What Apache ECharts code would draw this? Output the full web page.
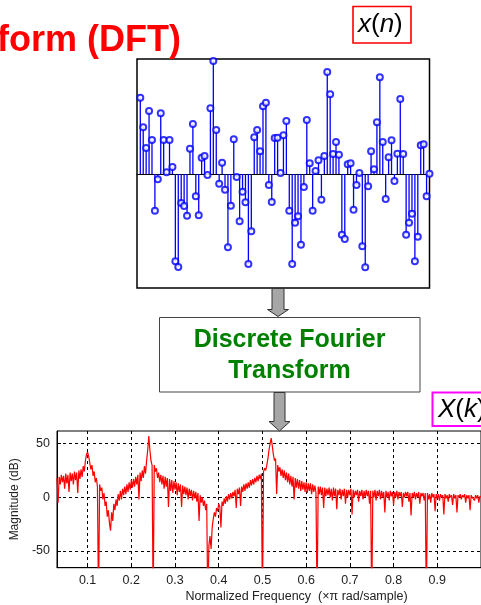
<!DOCTYPE html>
<html>
<head>
<meta charset="utf-8">
<title>DFT</title>
<script src="https://cdn.jsdelivr.net/npm/echarts/dist/echarts.min.js"></script>
<style>
    html, body { margin: 0; padding: 0; background: #fff; }
    #chart { width: 481px; height: 605px; }
</style>
</head>
<body>
<div id="chart"></div>
<script>
// x(n): 100 samples
const xn = [
    2.29, 1.40, 0.78, 1.89, 1.02, -1.10, -0.16, 1.82, 1.02, 0.05,
    1.02, 0.21, -2.62, -2.79, -0.87, -0.96, -1.25, 0.76, 1.50, -0.67,
    -1.24, 0.49, 0.54, -0.03, 1.97, 3.39, 1.32, -0.29, 0.34, -0.47,
    -2.20, -0.95, 1.04, -0.09, -1.42, -0.53, -0.85, -2.70, -1.72, 1.10,
    1.32, 0.68, 2.03, 2.14, -0.33, -0.84, 1.08, 1.09, 0.03, 1.16,
    1.59, -1.10, -2.70, -1.46, -1.27, -2.12, -0.39, 1.62, 0.32, -1.10,
    0.09, 0.41, -0.77, 0.54, 3.06, 2.39, 0.60, 0.96, 0.58, -1.82,
    -1.95, 0.29, 0.32, -1.07, -0.33, 0.03, -2.17, -2.80, -0.37, 0.68,
    0.14, 1.55, 2.90, 0.96, -0.75, 0.50, 1.01, -0.21, 0.61, 2.25,
    0.60, -1.82, -1.46, -1.19, -2.62, -1.88, 0.86, 0.89, -0.67, 0.01
];

// |X(k)| in dB, one value every 0.0025 from 0.03 to 1.0
const freqStart = 0.03;
const freqStep = 0.0025;
const magDb = [
    18, -5, 19, 12, 21, 14, 20, 8, 22, 13,
    21, 5, 23, 15, 22, 12, 24, 16, 23, 4,
    25, 17, 26, 19, 29, 24, 34, 40, 42, 38,
    32, 26, 30, 20, 24, 14, 18, 10, -100, 12,
    6, 9, -2, 4, -8, -4, -18, -12, -24, -31,
    -14, -22, -6, -12, -2, -8, 3, -3, 6, -2,
    8, 2, 10, 3, 12, 5, 14, 7, 16, 9,
    17, 10, 19, 12, 21, -2, 23, 15, 25, 18,
    29, 22, 34, 44, 57, 44, 34, 30, -100, 30,
    24, 27, 18, 23, 14, 21, 12, 20, 8, 19,
    10, 18, -9, 17, 6, 16, 4, 15, 7, 14,
    2, 13, 5, 12, -9, 11, 3, 10, 2, 9,
    -2, 8, 1, 7, -3, 6, -1, 5, -4, 4,
    -22, 2, -5, 0, -8, -3, -12, -6, -100, -45,
    -36, -48, -28, -20, -14, -18, -10, -13, -6, -9,
    -28, -4, -8, -1, -6, 1, -4, 3, -2, 4,
    -1, 5, 1, 7, -10, 8, 3, 9, -8, 10,
    5, 12, 6, 13, 8, 14, 9, 16, 11, 17,
    12, 18, 14, 20, 15, 21, 17, 22, -100, 24,
    27, 25, 30, 36, 44, 50, 55, 48, 40, 34,
    36, 3, 30, 24, 28, 20, 26, 18, 25, 16,
    23, 14, 22, 12, 20, 10, 19, -2, 18, 9,
    17, 8, 16, 6, 15, 7, 14, 5, 14, 4,
    13, 6, 13, 3, 12, 5, 11, 4, -100, 10,
    3, 10, 2, 9, -10, 9, 1, 8, 2, 9,
    0, 8, -3, 9, 1, 8, -11, 7, 2, 8,
    -2, 7, 1, 8, -6, 7, 0, 7, 2, 8,
    -16, 7, 0, 6, 2, 7, -4, 6, 1, 7,
    -2, 6, 0, 7, 1, 6, -6, 6, -100, 6,
    0, 7, -3, 6, 1, 7, -2, 6, 0, 5,
    -14, 6, 0, 5, -3, 6, 1, 5, -7, 5,
    0, 6, -2, 5, 1, 5, -9, 4, 0, 5,
    1, 5, -4, 4, -17, 4, 0, 5, -2, 4,
    0, 5, -6, 4, 1, 4, -3, 4, -100, 4,
    -2, 3, -5, 4, 0, 3, -13, 3, -1, 3,
    -3, 3, 0, 2, -16, 3, -1, 2, -4, 3,
    0, 2, -7, 3, -1, 2, -14, 2, 0, 3,
    -2, 2, 0, 3, -5, 2, -1, 2, -12, 2,
    0, 1, -3, 2, -1, 2, -5, 1, 0
];

const freqTicks = [0.1, 0.2, 0.3, 0.4, 0.5, 0.6, 0.7, 0.8, 0.9];
const dbTicks = [-50, 0, 50];

const chart = echarts.init(document.getElementById("chart"));

const stemData = xn.map((v, i) => [i, v]);
const specData = magDb.map((v, i) => [+(freqStart + i * freqStep).toFixed(4), v]);

const font = '"Liberation Sans", Arial, sans-serif';

/**
 * shapes for the block diagram
 */
function arrow(cx, top, neck, tip, shaftW, headW) {
    return {
        type: "polygon",
        shape: {
            points: [
                [cx - shaftW / 2, top], [cx + shaftW / 2, top],
                [cx + shaftW / 2, neck], [cx + headW / 2, neck],
                [cx, tip], [cx - headW / 2, neck],
                [cx - shaftW / 2, neck]
            ]
        },
        style: { fill: "#a6a6a6", stroke: "#333", lineWidth: 1 },
        z: 10
    };
}

function label(x, y, a, b) {
    return {
        type: "text",
        x: x, y: y,
        style: {
            text: "{i|" + a + "}{n|(}{i|" + b + "}{n|)}",
            verticalAlign: "middle",
            rich: {
                i: { fontFamily: font, fontSize: 26, fontStyle: "italic", fill: "#000" },
                n: { fontFamily: font, fontSize: 26, fill: "#000" }
            }
        },
        z: 10
    };
}

chart.setOption({
    backgroundColor: "#fff",
    animation: false,

    grid: [
        { left: 137, top: 59, width: 292.5, height: 229, show: true, borderColor: "#000", borderWidth: 1.5 },   // x(n)
        { left: 57, top: 431, right: -7.4, bottom: 37.3, show: true, borderColor: "#000", borderWidth: 1 }      // X(k)
    ],

    xAxis: [
        {
            type: "value", gridIndex: 0, min: -1.13, max: 99,
            axisLine: { onZero: true, lineStyle: { color: "#000", width: 1 } },
            axisTick: { show: false }, axisLabel: { show: false }, splitLine: { show: false }
        },
        {
            type: "value", gridIndex: 1, min: 0.03, max: 1.0,
            name: "Normalized Frequency  (\u00d7\u03c0 rad/sample)",
            nameLocation: "middle", nameGap: 22,
            nameTextStyle: { fontFamily: font, fontSize: 12.5, color: "#222", padding: [0, 0, 0, 55] },
            axisLine: { onZero: false, lineStyle: { color: "#000" } },
            axisTick: { inside: true, length: 4, customValues: freqTicks, lineStyle: { color: "#000" } },
            axisLabel: { customValues: freqTicks, fontFamily: font, fontSize: 12.5, color: "#222", margin: 6 },
            splitLine: { show: true, lineStyle: { color: "#000", type: [3, 3], width: 1 } }
        }
    ],

    yAxis: [
        {
            type: "value", gridIndex: 0, min: -3.42, max: 3.45,
            axisLine: { show: false }, axisTick: { show: false },
            axisLabel: { show: false }, splitLine: { show: false }
        },
        {
            type: "value", gridIndex: 1, min: -65.5, max: 61.7,
            name: "Magnitude (dB)",
            nameLocation: "middle", nameGap: 29,
            nameTextStyle: { fontFamily: font, fontSize: 12, color: "#222" },
            axisLine: { lineStyle: { color: "#000" } },
            axisTick: { inside: true, length: 4, customValues: dbTicks, lineStyle: { color: "#000" } },
            axisLabel: { customValues: dbTicks, fontFamily: font, fontSize: 12.5, color: "#222", margin: 7 },
            splitLine: { show: true, lineStyle: { color: "#000", type: [3, 3], width: 1 } }
        }
    ],

    series: [
        {
            name: "stems",
            type: "bar",
            xAxisIndex: 0, yAxisIndex: 0,
            data: stemData,
            barWidth: 1.3,
            itemStyle: { color: "#0000ff" },
            silent: true
        },
        {
            name: "samples",
            type: "scatter",
            xAxisIndex: 0, yAxisIndex: 0,
            data: stemData,
            symbol: "emptyCircle",
            symbolSize: 6,
            itemStyle: { color: "#0000ff", borderWidth: 1.2 },
            z: 5
        },
        {
            name: "spectrum",
            type: "line",
            xAxisIndex: 1, yAxisIndex: 1,
            data: specData,
            showSymbol: false,
            clip: true,
            lineStyle: { color: "#ff0000", width: 1.2 },
            z: 3
        }
    ],

    graphic: [
        {
            type: "text", x: -3, y: 41,
            style: { text: "form (DFT)", font: "bold 36px " + font, fill: "#ff0000", verticalAlign: "middle" }
        },
        { type: "rect", shape: { x: 353, y: 6.5, width: 58, height: 36.5 }, style: { fill: "none", stroke: "#ff0000", lineWidth: 1.6 } },
        label(358, 25, "x", "n"),

        arrow(278, 288.5, 309.5, 316.5, 12, 21),

        { type: "rect", shape: { x: 159.5, y: 317.5, width: 260.5, height: 74.5 }, style: { fill: "#fff", stroke: "#444", lineWidth: 1 } },
        {
            type: "text", x: 289.5, y: 340,
            style: { text: "Discrete Fourier", font: "bold 25px " + font, fill: "#008000", align: "center", verticalAlign: "middle" }
        },
        {
            type: "text", x: 289.5, y: 371,
            style: { text: "Transform", font: "bold 25px " + font, fill: "#008000", align: "center", verticalAlign: "middle" }
        },

        arrow(279.5, 392.5, 421.5, 431, 11, 21),

        { type: "rect", shape: { x: 432.5, y: 392.5, width: 70, height: 33.5 }, style: { fill: "none", stroke: "#ff00ff", lineWidth: 2 } },
        label(438, 409.5, "X", "k")
    ]
});
</script>
</body>
</html>
